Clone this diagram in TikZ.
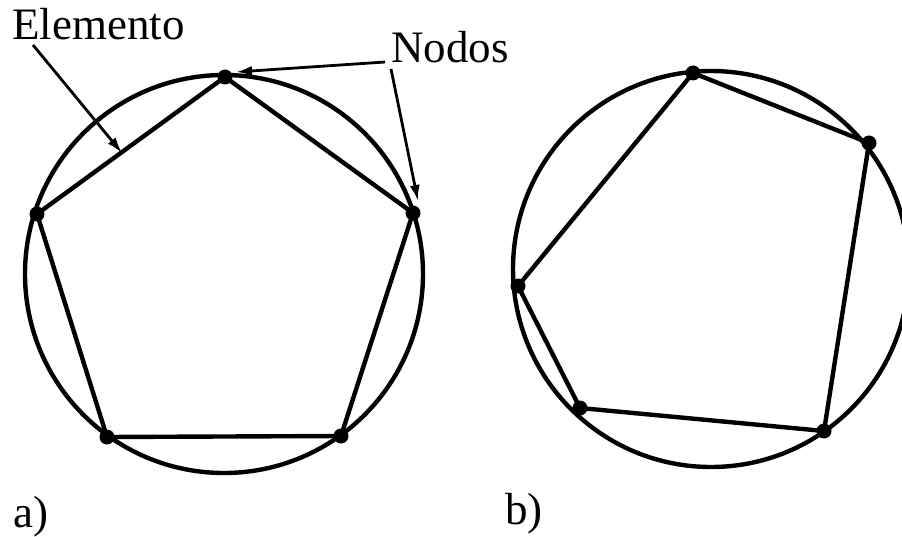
\documentclass[tikz,border=0pt]{standalone}
\usepackage{fontspec}
\setmainfont{Liberation Serif}
\usetikzlibrary{arrows.meta}
\begin{document}
\begin{tikzpicture}[x=1pt,y=-1pt,
  ring/.style={line width=4.4pt},
  elem/.style={line width=4.4pt,line join=round},
  nodedot/.style={circle,fill=black,inner sep=0pt,minimum size=15pt},
  lbl/.style={font=\fontsize{45}{50}\selectfont,inner sep=0pt,anchor=base west},
  pointer/.style={line width=2.8pt,-{Latex[length=16pt,width=10pt]}}]
\useasboundingbox (0,0) rectangle (902,537);
% circle a
\draw[ring] (224,274) circle[radius=199];
\node[nodedot] (a1) at (225,77) {};
\node[nodedot] (a2) at (413,213) {};
\node[nodedot] (a3) at (341,436) {};
\node[nodedot] (a4) at (107,437) {};
\node[nodedot] (a5) at (37,214) {};
\draw[elem] (a1.center) -- (a2.center) -- (a3.center) -- (a4.center) -- (a5.center) -- cycle;
% circle b
\draw[ring] (711,269) circle[radius=198];
\node[nodedot] (b1) at (693,73) {};
\node[nodedot] (b2) at (869,143) {};
\node[nodedot] (b3) at (824,431) {};
\node[nodedot] (b4) at (580,408) {};
\node[nodedot] (b5) at (518,286) {};
\draw[elem] (b1.center) -- (b2.center) -- (b3.center) -- (b4.center) -- (b5.center) -- cycle;
% labels
\node[lbl] (elemento) at (12,40) {Elemento};
\node[lbl] (nodos) at (391,63) {Nodos};
\node[lbl] (la) at (13,527) {a)};
\node[lbl] (lb) at (505,524) {b)};
% pointers
\coordinate (es) at (33,45);
\coordinate (et) at (122,153);
\coordinate (ns1) at (385,62);
\coordinate (nt1) at (236,72);
\coordinate (ns2) at (391,69);
\coordinate (nt2) at (418,201);
\draw[pointer] (es) -- (et);
\draw[pointer] (ns1) -- (nt1);
\draw[pointer] (ns2) -- (nt2);
\end{tikzpicture}
\end{document}
